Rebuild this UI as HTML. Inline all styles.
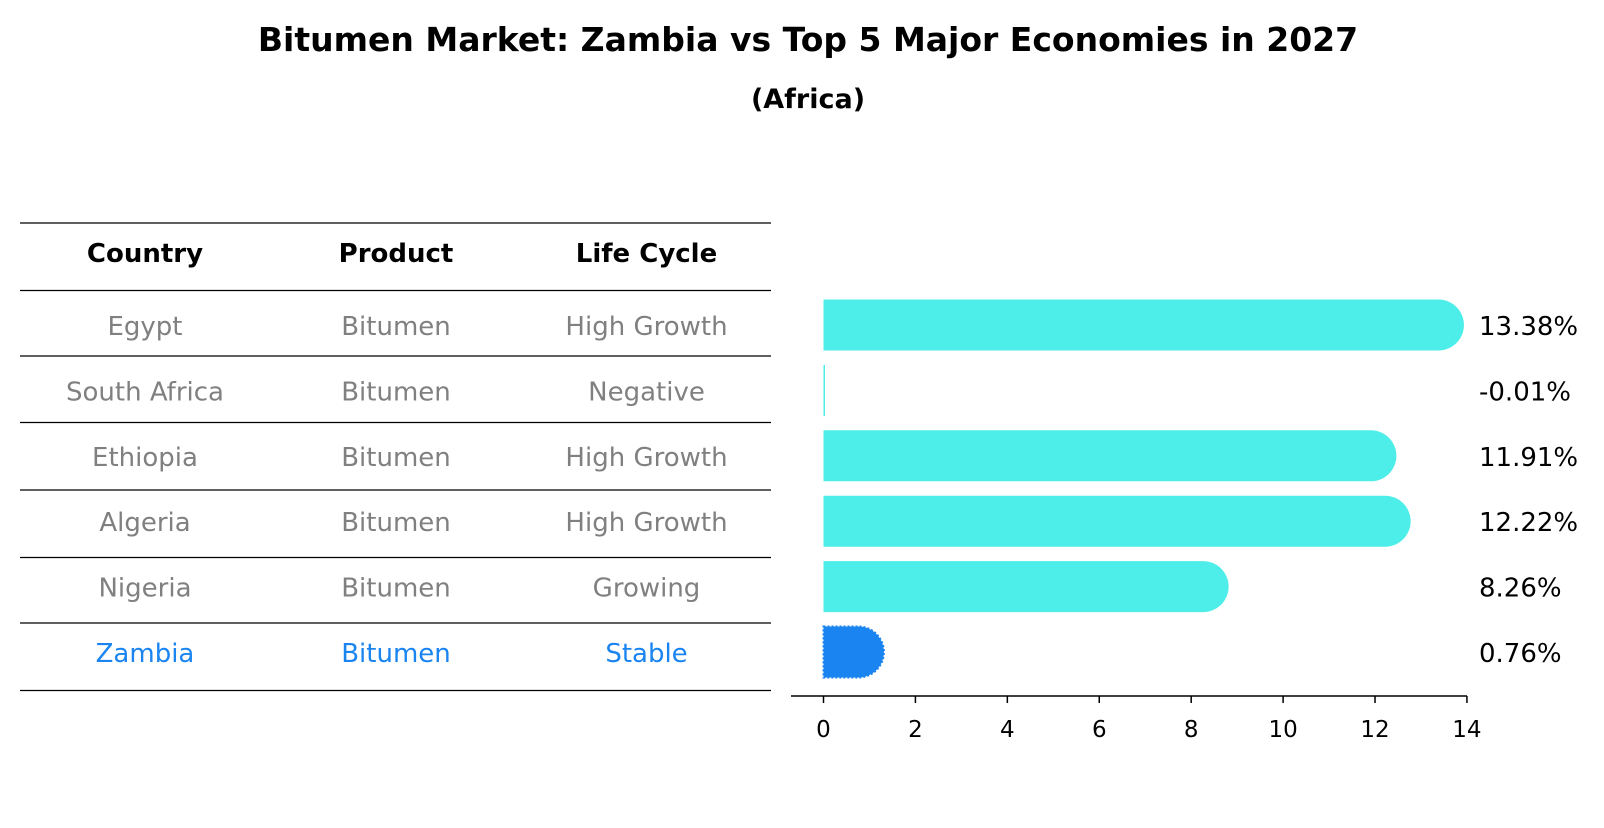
<!DOCTYPE html>
<html><head><meta charset="utf-8"><style>
body{margin:0;background:#fff}
svg text{font-family:"DejaVu Sans","Liberation Sans",sans-serif}
</style></head><body>
<svg id="chart" width="1604" height="823" xmlns="http://www.w3.org/2000/svg">
<text x="808" y="51" font-size="33" font-weight="bold" text-anchor="middle">Bitumen Market: Zambia vs Top 5 Major Economies in 2027</text>
<text x="808" y="108" font-size="27" font-weight="bold" text-anchor="middle">(Africa)</text>
<g id="table"></g>
<g id="bars"></g>
</svg>
<script>
const countries=["Egypt","South Africa","Ethiopia","Algeria","Nigeria","Zambia"];
const products=["Bitumen","Bitumen","Bitumen","Bitumen","Bitumen","Bitumen"];
const lifeCycles=["High Growth","Negative","High Growth","High Growth","Growing","Stable"];
const growthValues=[13.38,-0.01,11.91,12.22,8.26,0.76];
const tickValues=[0,2,4,6,8,10,12,14];
const NS="http://www.w3.org/2000/svg";
const tbl=document.getElementById('table'),bars=document.getElementById('bars');
function mk(tag,attrs,parent,txt){const e=document.createElementNS(NS,tag);for(const k in attrs)e.setAttribute(k,attrs[k]);if(txt!==undefined)e.textContent=txt;parent.appendChild(e);return e;}
const x=v=>823.5+v*45.96;
const rowY=i=>325+i*65.4;
const hl="#1a85f0",cyan="#4deeea";
const lineYs=[223,290.5,356,422.5,490,557.5,623,690.5];
lineYs.forEach((ly,i)=>{const l=mk('line',{x1:20,x2:771,y1:ly,y2:ly,stroke:'#000','stroke-width':1.2},tbl);

});
const colX=[145,396,646.5];
["Country","Product","Life Cycle"].forEach((h,j)=>{const t=mk('text',{x:colX[j],y:262,'font-size':26,'font-weight':'bold','text-anchor':'middle'},tbl,h);

});
countries.forEach((c,i)=>{const cy=rowY(i)+10;const col=i===countries.length-1?hl:'#808080';
[c,products[i],lifeCycles[i]].forEach((v,j)=>{const t=mk('text',{x:colX[j],y:cy,'font-size':26,'text-anchor':'middle',fill:col},tbl,v);

});});
const hh=25.5;
growthValues.forEach((v,i)=>{const cy=rowY(i);const col=i===growthValues.length-1?hl:cyan;
const x0=x(0),x1=x(Math.max(v,0));
let d;
if(v>0.05){d=`M${x0},${cy-hh} L${x1},${cy-hh} A${hh},${hh} 0 0 1 ${x1},${cy+hh} L${x0},${cy+hh} Z`;}
else{d=`M${x0},${cy-hh} L${x0+1.5},${cy-hh} L${x0+1.5},${cy+hh} L${x0},${cy+hh} Z`;}
const p=mk('path',{d:d,fill:col},bars);


if(i===growthValues.length-1){p.setAttribute('stroke',hl);p.setAttribute('stroke-width',2);p.setAttribute('stroke-dasharray','2 2');}
const t=mk('text',{x:1479,y:cy+10,'font-size':26},bars,v.toFixed(2)+'%');

});
const ax=mk('line',{x1:791,x2:1467,y1:696,y2:696,stroke:'#000','stroke-width':1.5},bars);


tickValues.forEach(tv=>{const tk=mk('line',{x1:x(tv),x2:x(tv),y1:696,y2:703,stroke:'#000','stroke-width':1.5},bars);


const tl=mk('text',{x:x(tv),y:737,'font-size':23,'text-anchor':'middle'},bars,String(tv));

});
</script>
</body></html>
